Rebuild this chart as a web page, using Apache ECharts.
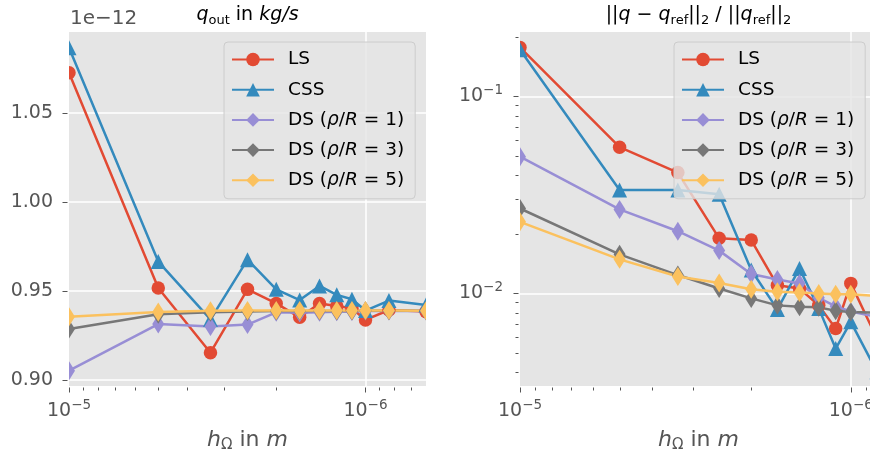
<!DOCTYPE html>
<html><head><meta charset="utf-8">
<script src="https://cdn.jsdelivr.net/npm/echarts@6/dist/echarts.min.js"></script>
<style>html,body{margin:0;padding:0;background:#fff}#c{width:870px;height:458px}</style>
</head><body><div id="c"></div>
<script>
// ---------- data ----------
const seriesNames = ['LS', 'CSS', 'DS (ρ/R = 1)', 'DS (ρ/R = 3)', 'DS (ρ/R = 5)'];
// mesh sizes h in m (x axis, log, reversed)
const hLeft  = [1.0e-5, 5.0e-6, 3.333e-6, 2.5e-6, 2.0e-6, 1.667e-6, 1.429e-6, 1.25e-6, 1.111e-6, 1.0e-6, 8.333e-7, 6.25e-7];
const hRight = [1.0e-5, 5.0e-6, 3.333e-6, 2.5e-6, 2.0e-6, 1.667e-6, 1.429e-6, 1.25e-6, 1.111e-6, 1.0e-6, 8.333e-7];
// left panel: q_out, in units of 1e-12 kg/s
const qUnitText = '1e\u221212';
const qLS  = [1.0726, 0.9517, 0.9153, 0.9509, 0.9430, 0.9352, 0.9430, 0.9416, 0.9403, 0.9337, 0.9393, 0.9384];
const qCSS = [1.0867, 0.9665, 0.9340, 0.9676, 0.9509, 0.9449, 0.9528, 0.9478, 0.9453, 0.9390, 0.9446, 0.9421];
const qDS1 = [0.9052, 0.9314, 0.9300, 0.9311, 0.9380, 0.9378, 0.9380, 0.9383, 0.9385, 0.9387, 0.9388, 0.9388];
const qDS3 = [0.9286, 0.9369, 0.9380, 0.9385, 0.9387, 0.9388, 0.9388, 0.9388, 0.9388, 0.9389, 0.9389, 0.9389];
const qDS5 = [0.9355, 0.9382, 0.9389, 0.9390, 0.9390, 0.9390, 0.9390, 0.9390, 0.9390, 0.9390, 0.9390, 0.9389];
// right panel: relative L2 error
const eLS  = [0.1774, 0.0553, 0.0411, 0.01905, 0.01866, 0.0110, 0.0106, 0.0087, 0.00664, 0.01125, 0.0059];
const eCSS = [0.1728, 0.0335, 0.0335, 0.0319, 0.01316, 0.0083, 0.0134, 0.0084, 0.00525, 0.00718, 0.0040];
const eDS1 = [0.0495, 0.0267, 0.0207, 0.0165, 0.01254, 0.01178, 0.01124, 0.0095, 0.0086, 0.0081, 0.0076];
const eDS3 = [0.0270, 0.0158, 0.0124, 0.0106, 0.00944, 0.0087, 0.00855, 0.0085, 0.00817, 0.00805, 0.0080];
const eDS5 = [0.0231, 0.0149, 0.0122, 0.0113, 0.0105, 0.0102, 0.0101, 0.0100, 0.0099, 0.0099, 0.0097];
// axis ranges and ticks
const qRange = [0.8966, 1.0955];
const eRange = [0.00339, 0.2125];
const qTicks = [0.90, 0.95, 1.00, 1.05];
const xMajorTicks = [1e-5, 1e-6];
const xMinorTicksLeft  = [9e-6, 8e-6, 7e-6, 6e-6, 5e-6, 4e-6, 3e-6, 2e-6, 9e-7, 8e-7, 7e-7];
const xMinorTicksRight = [9e-6, 8e-6, 7e-6, 6e-6, 5e-6, 4e-6, 3e-6, 2e-6, 9e-7];
const eMajorTicks = [0.1, 0.01];
const eMinorTicks = [0.2, 0.09, 0.08, 0.07, 0.06, 0.05, 0.04, 0.03, 0.02, 0.009, 0.008, 0.007, 0.006, 0.005, 0.004];

// ---------- style ----------
const FONT = 'DejaVu Sans';
const colors = ['#E24A33', '#348ABD', '#988ED5', '#777777', '#FBC15E'];
const symbols = ['circle', 'triangle', 'diamond', 'diamond', 'diamond'];
const symbolSizes = [13.5, 15, [12, 19], [12, 19], [12, 19]];
const LEFT = {x: 69, r: 426}, RIGHT = {x: 520, r: 877}, TOP = 32, BOT = 386, W = 870, H = 458;

function pairs(xs, ys) { return ys.map((v, i) => [xs[i], v]); }

function powLabel(v) {
  const e = Math.log10(v), r = Math.round(e);
  if (Math.abs(e - r) > 1e-6) return '';
  return '{b|10}{s|' + (r < 0 ? '\u2212' : '') + Math.abs(r) + '}';
}
const powRich = {
  b: {fontSize: 19, fontFamily: FONT, color: '#555', lineHeight: 25, verticalAlign: 'middle'},
  s: {fontSize: 13.5, fontFamily: FONT, color: '#555', lineHeight: 13, verticalAlign: 'top'}
};
function qLabel(v) {
  const k = v / 0.05;
  return Math.abs(k - Math.round(k)) < 1e-6 ? v.toFixed(2) : '';
}

function tickRender(params, api) {
  const kind = api.value(2);
  const p = api.coord([api.value(0), api.value(1)]);
  const cs = params.coordSys;
  let shape;
  if (kind < 2) {
    const len = kind === 0 ? 5 : 3;
    const x = Math.round(p[0]) + 0.5, y0 = cs.y + cs.height + 1.5;
    if (p[0] < cs.x - 1 || p[0] > cs.x + cs.width + 1) return null;
    shape = {x1: x, y1: y0, x2: x, y2: y0 + len};
  } else {
    const len = kind === 2 ? 5 : 3;
    const y = Math.round(p[1]) + 0.5, x0 = cs.x - 1.5;
    shape = {x1: x0, y1: y, x2: x0 - len, y2: y};
  }
  return {type: 'line', shape: shape, style: {stroke: '#555', lineWidth: 1}};
}

function tickData(xMaj, xMin, yMaj, yMin, xRef, yRef) {
  const d = [];
  xMaj.forEach(v => d.push([v, yRef, 0]));
  xMin.forEach(v => d.push([v, yRef, 1]));
  yMaj.forEach(v => d.push([xRef, v, 2]));
  yMin.forEach(v => d.push([xRef, v, 3]));
  return d;
}

function lineSeries(name, i, xs, ys, axis) {
  return {
    type: 'line', name: name, xAxisIndex: axis, yAxisIndex: axis,
    data: pairs(xs, ys), symbol: symbols[i], symbolSize: symbolSizes[i],
    showSymbol: true, showAllSymbol: true,
    lineStyle: {width: 2.5, color: colors[i]}, itemStyle: {color: colors[i]},
    emphasis: {disabled: true}, animation: false, z: 2
  };
}

const legendRich = {
  i: {fontStyle: 'italic', fontSize: 18.5, fontFamily: FONT, color: '#000', lineHeight: 16}
};
function legendFmt(name) {
  return name.replace('ρ', '{i|ρ}').replace('R =', '{i|R} =');
}
function legend(left) {
  return {
    orient: 'vertical', left: left, top: 42, data: seriesNames,
    itemWidth: 42, itemHeight: 17, itemGap: 11.2,
    padding: [8, 11, 9, 7],
    backgroundColor: 'rgba(229,229,229,0.8)', borderColor: '#cccccc', borderWidth: 1, borderRadius: 4,
    formatter: legendFmt, selectedMode: false,
    textStyle: {fontSize: 18.5, fontFamily: FONT, color: '#000', lineHeight: 16, padding: [0, 0, 0, 9], rich: legendRich}
  };
}

const nameRich = {
  t: {fontSize: 22, fontFamily: FONT, color: '#555', lineHeight: 26, verticalAlign: 'middle'},
  i: {fontSize: 22, fontFamily: FONT, fontStyle: 'italic', color: '#555', lineHeight: 26, verticalAlign: 'middle'},
  sub: {fontSize: 15, fontFamily: FONT, color: '#555', lineHeight: 12, verticalAlign: 'bottom'}
};
const xName = '{i|h}{sub|Ω}{t| in }{i|m}';

function xAxis(grid, xs) {
  return {
    type: 'log', logBase: 10, gridIndex: grid, min: xs[xs.length - 1], max: xs[0], inverse: true,
    axisLine: {show: false}, axisTick: {show: false},
    axisLabel: {margin: 12.5, formatter: powLabel, rich: powRich, color: '#555', fontFamily: FONT, fontSize: 19},
    splitLine: {show: true, showMinLine: false, showMaxLine: false, lineStyle: {color: '#ffffff', width: 1.5}},
    name: xName, nameLocation: 'middle', nameGap: 41, nameTextStyle: {rich: nameRich, fontSize: 22, color: '#555'}
  };
}

const titleRich = {
  t: {fontSize: 19, fontFamily: FONT, fill: '#000', lineHeight: 24, verticalAlign: 'middle'},
  i: {fontSize: 19, fontFamily: FONT, fontStyle: 'italic', fill: '#000', lineHeight: 24, verticalAlign: 'middle'},
  sub: {fontSize: 13, fontFamily: FONT, fill: '#000', lineHeight: 19, verticalAlign: 'bottom'}
};
const titleLeft = '{i|q}{sub|out}{t| in }{i|kg/s}';
const titleRight = '{t|||}{i|q}{t| \u2212 }{i|q}{sub|ref}{t|||}{sub|2}{t| / ||}{i|q}{sub|ref}{t|||}{sub|2}';

const gridBase = {top: TOP, bottom: H - BOT, show: true, backgroundColor: '#E5E5E5', borderWidth: 0,
                  containLabel: false, outerBoundsMode: 'none'};

const option = {
  animation: false,
  backgroundColor: '#ffffff',
  textStyle: {fontFamily: FONT},
  grid: [
    Object.assign({left: LEFT.x, right: W - LEFT.r}, gridBase),
    Object.assign({left: RIGHT.x, right: W - RIGHT.r}, gridBase)
  ],
  xAxis: [xAxis(0, hLeft), xAxis(1, hRight)],
  yAxis: [
    {type: 'value', gridIndex: 0, min: qRange[0], max: qRange[1], splitNumber: 4, minInterval: 0.05, maxInterval: 0.05,
     axisLine: {show: false}, axisTick: {show: false},
     axisLabel: {margin: 16, formatter: qLabel, color: '#555', fontFamily: FONT, fontSize: 19},
     splitLine: {show: true, showMinLine: false, showMaxLine: false, lineStyle: {color: '#ffffff', width: 1.5}}},
    {type: 'log', logBase: 10, gridIndex: 1, min: eRange[0], max: eRange[1],
     axisLine: {show: false}, axisTick: {show: false},
     axisLabel: {margin: 17, formatter: powLabel, rich: powRich, color: '#555', fontFamily: FONT, fontSize: 19},
     splitLine: {show: true, showMinLine: false, showMaxLine: false, lineStyle: {color: '#ffffff', width: 1.5}}}
  ],
  legend: [legend(224), legend(674)],
  graphic: [
    {type: 'rect', z: 10, silent: true, shape: {x: 56, y: 24, width: LEFT.x - 56, height: 370}, style: {fill: '#fff'}},
    {type: 'rect', z: 10, silent: true, shape: {x: LEFT.r, y: 24, width: 16, height: 370}, style: {fill: '#fff'}},
    {type: 'rect', z: 10, silent: true, shape: {x: 506, y: 24, width: RIGHT.x - 506, height: 370}, style: {fill: '#fff'}},
    {type: 'text', z: 10, x: (LEFT.x + LEFT.r) / 2, y: 15, style: {text: titleLeft, rich: titleRich, align: 'center', verticalAlign: 'middle', fontSize: 19, fontFamily: FONT}},
    {type: 'text', z: 10, x: (RIGHT.x + RIGHT.r) / 2, y: 15, style: {text: titleRight, rich: titleRich, align: 'center', verticalAlign: 'middle', fontSize: 19, fontFamily: FONT}},
    {type: 'text', z: 10, x: 70, y: 19, style: {text: qUnitText, fill: '#555', fontSize: 20, fontFamily: FONT, align: 'left', verticalAlign: 'middle'}}
  ],
  series: [
    lineSeries(seriesNames[0], 0, hLeft, qLS, 0),
    lineSeries(seriesNames[1], 1, hLeft, qCSS, 0),
    lineSeries(seriesNames[2], 2, hLeft, qDS1, 0),
    lineSeries(seriesNames[3], 3, hLeft, qDS3, 0),
    lineSeries(seriesNames[4], 4, hLeft, qDS5, 0),
    lineSeries(seriesNames[0], 0, hRight, eLS, 1),
    lineSeries(seriesNames[1], 1, hRight, eCSS, 1),
    lineSeries(seriesNames[2], 2, hRight, eDS1, 1),
    lineSeries(seriesNames[3], 3, hRight, eDS3, 1),
    lineSeries(seriesNames[4], 4, hRight, eDS5, 1),
    {type: 'custom', xAxisIndex: 0, yAxisIndex: 0, z: 20, silent: true, clip: false, animation: false,
     renderItem: tickRender, data: tickData(xMajorTicks, xMinorTicksLeft, qTicks, [], hLeft[0], qRange[0])},
    {type: 'custom', xAxisIndex: 1, yAxisIndex: 1, z: 20, silent: true, clip: false, animation: false,
     renderItem: tickRender, data: tickData(xMajorTicks, xMinorTicksRight, eMajorTicks, eMinorTicks, hRight[0], eRange[0])}
  ]
};
const chart = echarts.init(document.getElementById('c'), null, {renderer: 'canvas'});
chart.setOption(option);
</script></body></html>
